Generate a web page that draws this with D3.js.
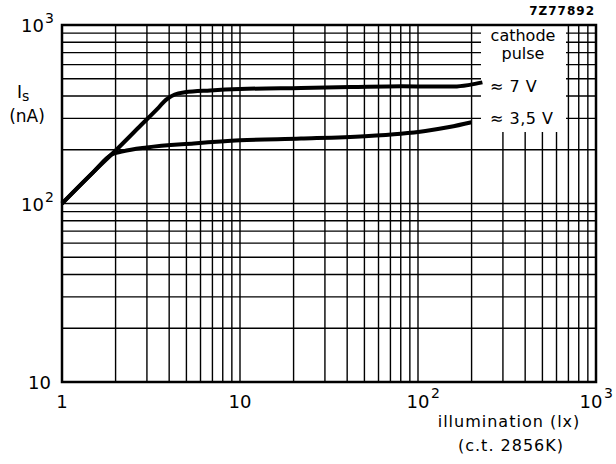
<!DOCTYPE html>
<html>
<head>
<meta charset="utf-8">
<script src="https://d3js.org/d3.v7.min.js"></script>
<style>
	body { margin: 0; background: #fff; }
	svg { display: block; }
</style>
</head>
<body>
<div id="chart"></div>
<script>
// curve data (illumination in lx, Is in nA)
var upperX = [1, 1.5, 2, 2.8, 3.5, 3.85, 4.3, 4.9, 6.8, 10, 22, 42, 81, 120, 160, 195, 230];
var upperY = [100, 150, 198, 277, 346, 382, 408, 420, 430, 438, 444, 449, 454, 452, 452, 462, 477];
var lowerX = [1, 1.5, 1.9, 2.2, 3, 5.5, 10, 22, 50, 80, 110, 150, 200];
var lowerY = [100, 150, 188, 196, 206, 217, 226, 231, 238, 246, 255, 268, 285];

var xTickVals = [1, 10, 100, 1000];
var xTickLabels = [["1", ""], ["10", ""], ["10", "2"], ["10", "3"]];
var yTickVals = [10, 100, 1000];
var yTickLabels = [["10", ""], ["10", "2"], ["10", "3"]];

var legendLines = ["cathode", "pulse"];
var curveLabels = ["\u2248 7 V", "\u2248 3,5 V"];

var width = 616,
	height = 464,
	font = "DejaVu Sans, sans-serif";

var svg = d3.select("#chart").append("svg")
	.attr("width", width)
	.attr("height", height);

var x = d3.scaleLog().domain([1, 1000]).range([62, 596]);
var y = d3.scaleLog().domain([10, 1000]).range([382, 25]);

// grid lines at 1..9 of every decade
var grid = svg.append("g").attr("class", "grid");
grid.selectAll("line.v")
	.data(x.ticks())
	.enter().append("line")
	.attr("class", "v")
	.attr("x1", function(d) { return x(d); })
	.attr("x2", function(d) { return x(d); })
	.attr("y1", y(10))
	.attr("y2", y(1000))
	.attr("stroke", "#000")
	.attr("stroke-width", 1.4);
grid.selectAll("line.h")
	.data(y.ticks())
	.enter().append("line")
	.attr("class", "h")
	.attr("x1", x(1))
	.attr("x2", x(1000))
	.attr("y1", function(d) { return y(d); })
	.attr("y2", function(d) { return y(d); })
	.attr("stroke", "#000")
	.attr("stroke-width", 1.4);

// white patch where the legend sits
svg.append("rect")
	.attr("x", 481)
	.attr("y", y(1000) + 1)
	.attr("width", 85)
	.attr("height", 106)
	.attr("fill", "#fff");

// frame
svg.append("rect")
	.attr("x", x(1))
	.attr("y", y(1000))
	.attr("width", x(1000) - x(1))
	.attr("height", y(10) - y(1000))
	.attr("fill", "none")
	.attr("stroke", "#000")
	.attr("stroke-width", 2.5);

// curves
var line = d3.line()
	.x(function(d) { return x(d[0]); })
	.y(function(d) { return y(d[1]); })
	.curve(d3.curveMonotoneX);

svg.append("path")
	.datum(d3.zip(upperX, upperY))
	.attr("d", line)
	.attr("fill", "none")
	.attr("stroke", "#000")
	.attr("stroke-width", 4)
	.attr("stroke-linejoin", "round");
svg.append("path")
	.datum(d3.zip(lowerX, lowerY))
	.attr("d", line)
	.attr("fill", "none")
	.attr("stroke", "#000")
	.attr("stroke-width", 4)
	.attr("stroke-linejoin", "round");

// x tick labels
var xl = svg.append("g").attr("class", "xlabels");
xTickVals.forEach(function(v, i) {
	var lab = xTickLabels[i];
	xl.append("text")
		.text(lab[0])
		.attr("x", x(v) - (i == 3 ? 5 : 0))
		.attr("y", 408)
		.attr("text-anchor", "middle")
		.style("font-size", "18px")
		.style("font-family", font);
	if (lab[1] != "") {
		xl.append("text")
			.text(lab[1])
			.attr("x", x(v) - (i == 3 ? 5 : 0) + 13)
			.attr("y", 398)
			.style("font-size", "14px")
			.style("font-family", font);
	}
});

// y tick labels
var yl = svg.append("g").attr("class", "ylabels");
yTickVals.forEach(function(v, i) {
	var lab = yTickLabels[i];
	var sup = lab[1] != "";
	yl.append("text")
		.text(lab[0])
		.attr("x", sup ? 44 : 51)
		.attr("y", y(v) + 7)
		.attr("text-anchor", "end")
		.style("font-size", "18px")
		.style("font-family", font);
	if (sup) {
		yl.append("text")
			.text(lab[1])
			.attr("x", 45)
			.attr("y", y(v) - 2)
			.style("font-size", "14px")
			.style("font-family", font);
	}
});

// y axis title
var yt = svg.append("text")
	.attr("x", 17)
	.attr("y", 98)
	.style("font-size", "17px")
	.style("font-family", font);
yt.append("tspan").text("I");
yt.append("tspan").text("s")
	.attr("dy", 3)
	.style("font-size", "14px");
svg.append("text")
	.text("(nA)")
	.attr("x", 27)
	.attr("y", 122)
	.attr("text-anchor", "middle")
	.style("font-size", "17px")
	.style("font-family", font);

// x axis title
svg.append("text")
	.text("illumination (lx)")
	.attr("x", 509)
	.attr("y", 427)
	.attr("text-anchor", "middle")
	.style("font-size", "16px")
	.style("letter-spacing", "1px")
	.style("font-family", font);
svg.append("text")
	.text("(c.t. 2856K)")
	.attr("x", 511)
	.attr("y", 451)
	.attr("text-anchor", "middle")
	.style("font-size", "16px")
	.style("letter-spacing", "1px")
	.style("font-family", font);

// figure code
svg.append("text")
	.text("7Z77892")
	.attr("x", 595)
	.attr("y", 15)
	.attr("text-anchor", "end")
	.style("font-size", "12px")
	.style("font-weight", "bold")
	.style("letter-spacing", "1px")
	.style("font-family", font);

// legend
legendLines.forEach(function(t, i) {
	svg.append("text")
		.text(t)
		.attr("x", 523)
		.attr("y", 41 + i * 18)
		.attr("text-anchor", "middle")
		.style("font-size", "16px")
		.style("font-family", font);
});
curveLabels.forEach(function(t, i) {
	svg.append("text")
		.text(t)
		.attr("x", 490)
		.attr("y", 92 + i * 32)
		.style("font-size", "16px")
		.style("letter-spacing", "0.5px")
		.style("font-family", font);
});
</script>
</body>
</html>
